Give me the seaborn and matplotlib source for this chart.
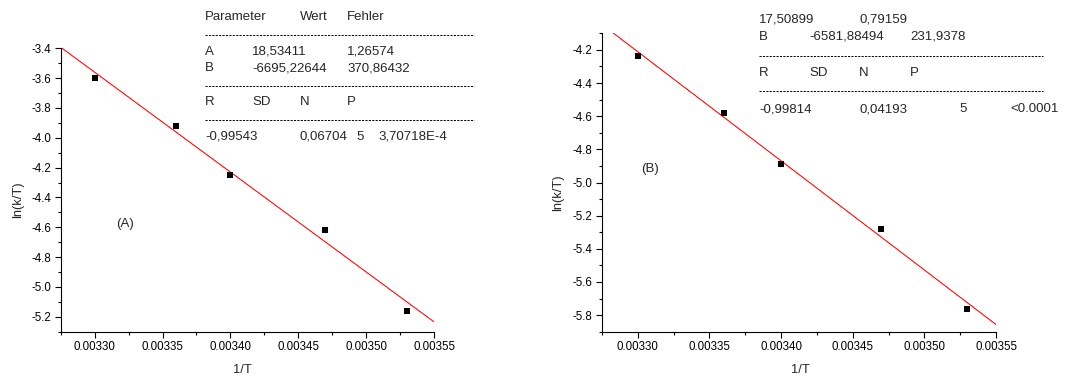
import matplotlib
matplotlib.use("Agg")
import matplotlib.pyplot as plt
import seaborn as sns
import numpy as np
import pandas as pd
from matplotlib.ticker import AutoMinorLocator, MultipleLocator
from matplotlib.lines import Line2D

# ---------------- data ----------------
inv_T = [0.00330, 0.00336, 0.00340, 0.00347, 0.00353]
lnkT_A = [-3.60, -3.92, -4.25, -4.62, -5.16]
lnkT_B = [-4.234, -4.58, -4.89, -5.28, -5.763]

fit_A_param = 18.53411
fit_B_param_A = -6695.22644
fit_A_param_B = 17.50899
fit_B_param_B = -6581.88494
fit_x = [0.003275, 0.00355]

xlim = (0.003275, 0.00355)
ylim_A = (-5.3, -3.4)
ylim_B = (-5.9, -4.1)
xticks = [0.00330, 0.00335, 0.00340, 0.00345, 0.00350, 0.00355]

table_A = [
    (205, 17.3, "Parameter"), (300, 17.3, "Wert"), (347.3, 17.3, "Fehler"),
    (205, 51.7, "A"), (252.3, 51.7, "18,53411"), (347.3, 51.7, "1,26574"),
    (205, 68.3, "B"), (252.3, 68.3, "-6695,22644"), (347.3, 68.3, "370,86432"),
    (205, 102, "R"), (252.3, 102, "SD"), (300, 102, "N"), (347.3, 102, "P"),
    (205, 136.7, "-0,99543"), (300, 136.7, "0,06704"), (356, 136.7, "5"),
    (378.3, 136.7, "3,70718E-4"),
]
dash_A = [(205, 474, 34.7), (205, 474, 86), (205, 474, 120)]

table_B = [
    (759.3, 19, "17,50899"), (859.3, 19, "0,79159"),
    (759.3, 36.7, "B"), (809.3, 36.7, "-6581,88494"), (910, 36.7, "231,9378"),
    (759.3, 72.7, "R"), (809.3, 72.7, "SD"), (859.3, 72.7, "N"), (910, 72.7, "P"),
    (759.3, 109, "-0,99814"), (859.3, 109, "0,04193"), (959.3, 109, "5"),
    (1010, 109, "<0.0001"),
]
dash_B = [(759.3, 1043.3, 55.7), (759.3, 1043.3, 91)]

W, H = 1076, 378

sns.set_style("ticks")
plt.rcParams['font.family'] = ['Liberation Sans', 'DejaVu Sans']

fig = plt.figure(figsize=(W / 100, H / 100), dpi=100)

def px(x, y):
    return x / W, 1 - y / H

axA = fig.add_axes([60.7 / W, 1 - 331.7 / H, (434 - 60.7) / W, (331.7 - 48.3) / H])
axB = fig.add_axes([602 / W, 1 - 331.7 / H, (996 - 602) / W, (331.7 - 33.3) / H])

def draw(ax, ys, a, b, ylim):
    df = pd.DataFrame({"x": inv_T, "y": ys})
    fx = np.array(fit_x)
    fdf = pd.DataFrame({"x": fx, "y": a + b * fx})
    sns.lineplot(data=fdf, x="x", y="y", ax=ax, color="#ff0000", linewidth=0.75)
    sns.scatterplot(data=df, x="x", y="y", ax=ax, marker="s", color="black",
                    s=22, edgecolor="black", linewidth=0, zorder=3)
    ax.set_xlim(*xlim)
    ax.set_ylim(*ylim)
    ax.set_xticks(xticks)
    ax.set_xticklabels([f"{t:.5f}" for t in xticks])
    ax.yaxis.set_major_locator(MultipleLocator(0.2))
    ax.xaxis.set_minor_locator(AutoMinorLocator(2))
    ax.yaxis.set_minor_locator(AutoMinorLocator(2))
    ax.yaxis.set_major_formatter(matplotlib.ticker.FormatStrFormatter("%.1f"))
    for s in ("top", "right"):
        ax.spines[s].set_visible(False)
    for s in ("left", "bottom"):
        ax.spines[s].set_color("black")
        ax.spines[s].set_linewidth(0.8)
    ax.tick_params(axis="both", which="major", direction="out", length=4,
                   width=0.8, labelsize=8.3, pad=3, colors="black")
    ax.tick_params(axis="both", which="minor", direction="out", length=2.2,
                   width=0.8, colors="black")
    ax.set_xlabel("")
    ax.set_ylabel("")
    ax.set_facecolor("white")

draw(axA, lnkT_A, fit_A_param, fit_B_param_A, ylim_A)
draw(axB, lnkT_B, fit_A_param_B, fit_B_param_B, ylim_B)

# axis labels
fig.text(*px(18.3, 200), "ln(k/T)", rotation=90, ha="center", va="center", fontsize=9.3)
fig.text(*px(558.3, 193), "ln(k/T)", rotation=90, ha="center", va="center", fontsize=9.3)
fig.text(*px(242, 370), "1/T", ha="center", va="center", fontsize=9.3)
fig.text(*px(800, 370), "1/T", ha="center", va="center", fontsize=9.3)

fig.text(*px(116, 224), "(A)", ha="left", va="center", fontsize=9.5)
fig.text(*px(640.7, 169), "(B)", ha="left", va="center", fontsize=9.5)

for (x, y, t) in table_A + table_B:
    fig.text(*px(x, y), t, ha="left", va="center", fontsize=9.5)

for (x0, x1, y) in dash_A + dash_B:
    fig.add_artist(Line2D([x0 / W, x1 / W], [1 - y / H, 1 - y / H],
                          transform=fig.transFigure, color="black",
                          linewidth=0.7, linestyle=(0, (2.2, 1.3))))

fig.savefig("out.png", dpi=100, facecolor="white")
